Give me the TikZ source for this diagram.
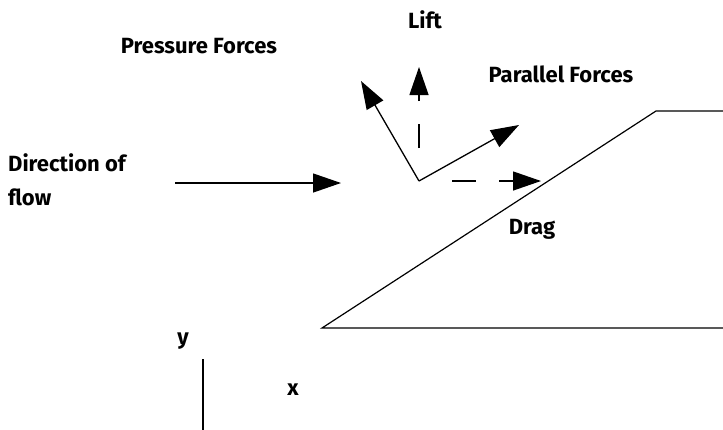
\documentclass[tikz,border=0pt]{standalone}
\usepackage{fontspec}
\setmainfont{Fira Sans}
\usetikzlibrary{arrows.meta}
\begin{document}
\begin{tikzpicture}[x=1pt,y=-1pt,
  lbl/.style={font=\bfseries\fontsize{22}{26}\selectfont, inner sep=0pt},
  force/.style={line width=1.3pt, -{Triangle[length=28pt,width=19pt]}},
  dashforce/.style={force, dash pattern=on 22pt off 33pt on 24pt off 23pt, dash phase=22pt},
  edge/.style={line width=1.2pt}]
\useasboundingbox (0,0) rectangle (723,429);
% shape
\coordinate (bl) at (322,328);
\coordinate (tl) at (656,111);
\coordinate (tr) at (725,111);
\coordinate (br) at (725,328);
\draw[edge] (tr) -- (tl) -- (bl) -- (br);
% forces
\coordinate (o) at (419,181);
\coordinate (ptip) at (361,81);
\coordinate (ltip) at (419,67);
\coordinate (partip) at (519,125);
\coordinate (dtip) at (541,181);
\draw[force] (o) -- (ptip);
\draw[force] (o) -- (partip);
\draw[dashforce] (o) -- (ltip);
\draw[dashforce] (o) -- (dtip);
% flow
\coordinate (fs) at (175,183);
\coordinate (fe) at (341,183);
\draw[force] (fs) -- (fe);
% axis
\coordinate (ya) at (203,359);
\coordinate (yb) at (203,431);
\draw[edge] (ya) -- (yb);
% labels
\node[lbl] (lift) at (425,20) {Lift};
\node[lbl] (press) at (199,46) {Pressure Forces};
\node[lbl] (par) at (561,74) {Parallel Forces};
\node[lbl, anchor=west] (dir) at (8,163) {Direction of};
\node[lbl, anchor=west] (flow) at (8,197) {flow};
\node[lbl] (drag) at (532,229) {Drag};
\node[lbl] (ylab) at (183,341) {y};
\node[lbl] (xlab) at (293,390) {x};
\end{tikzpicture}
\end{document}
